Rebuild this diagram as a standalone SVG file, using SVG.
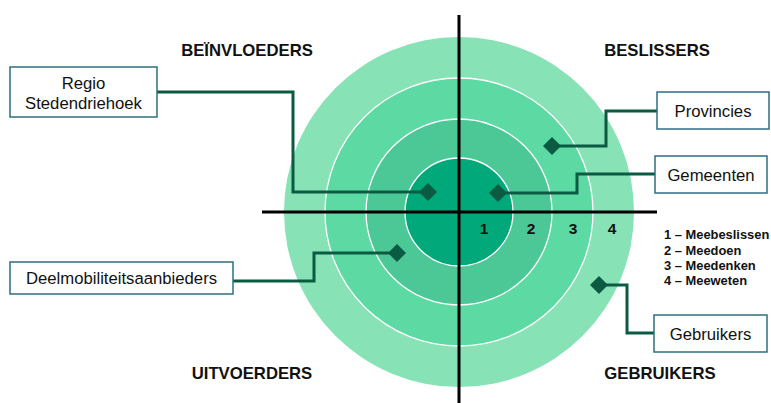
<svg xmlns="http://www.w3.org/2000/svg" width="771" height="403" viewBox="0 0 771 403">
<defs>
<style>
.ring{stroke:#ffffff;stroke-width:1.3}
.axis{stroke:#000;stroke-width:3;fill:none}
.conn{stroke:#0b5a42;stroke-width:3;fill:none}
.dia{fill:#0b5a42}
.box{fill:#fff;stroke:#2f6f80;stroke-width:1.5}
.lbl{font-family:"Liberation Sans",Arial,sans-serif;font-size:16.7px;fill:#111;text-anchor:middle}
.title{font-family:"Liberation Sans",Arial,sans-serif;font-size:16.7px;font-weight:bold;fill:#111;text-anchor:middle}
.num{font-family:"Liberation Sans",Arial,sans-serif;font-size:15.5px;font-weight:bold;fill:#111;text-anchor:middle}
.leg{font-family:"Liberation Sans",Arial,sans-serif;font-size:12.9px;font-weight:bold;fill:#111}
</style>
</defs>
<rect width="771" height="403" fill="#fff"/>
<g id="target">
<circle cx="459" cy="212" r="175" fill="#87e3b6"/>
<circle class="ring" cx="459" cy="212" r="134" fill="#5dd9a4"/>
<circle class="ring" cx="459" cy="212" r="93" fill="#4cc796"/>
<circle class="ring" cx="459" cy="212" r="54" fill="#00a87a"/>
</g>
<g id="axes">
<line class="axis" x1="459" y1="15" x2="459" y2="403"/>
<line class="axis" x1="262" y1="212" x2="657" y2="212"/>
</g>
<g id="numbers">
<text class="num" x="484" y="234">1</text>
<text class="num" x="531" y="234">2</text>
<text class="num" x="573" y="234">3</text>
<text class="num" x="612" y="234">4</text>
</g>
<g id="legend">
<text class="leg" x="664" y="239">1 – Meebeslissen</text>
<text class="leg" x="664" y="255">2 – Meedoen</text>
<text class="leg" x="664" y="270">3 – Meedenken</text>
<text class="leg" x="664" y="285">4 – Meeweten</text>
</g>
<g id="titles">
<text class="title" x="247" y="56">BEÏNVLOEDERS</text>
<text class="title" x="657" y="56">BESLISSERS</text>
<text class="title" x="252" y="379">UITVOERDERS</text>
<text class="title" x="660" y="379">GEBRUIKERS</text>
</g>
<g id="connectors">
<polyline class="conn" points="157,92 293,92 293,192 428,192"/>
<polyline class="conn" points="657,111 606,111 606,146 552,146"/>
<polyline class="conn" points="655,174 577,174 577,193 498,193"/>
<polyline class="conn" points="233,281 314,281 314,253 397,253"/>
<polyline class="conn" points="654,333 627,333 627,285 599,285"/>
<path class="dia" d="M428,183 l9,9 l-9,9 l-9,-9z"/>
<path class="dia" d="M552,137 l9,9 l-9,9 l-9,-9z"/>
<path class="dia" d="M498,184 l9,9 l-9,9 l-9,-9z"/>
<path class="dia" d="M397,244 l9,9 l-9,9 l-9,-9z"/>
<path class="dia" d="M599,276 l9,9 l-9,9 l-9,-9z"/>
</g>
<g id="node-regio">
<rect class="box" x="10" y="67" width="147" height="50"/>
<text class="lbl" x="83.5" y="89">Regio</text>
<text class="lbl" x="83.5" y="109">Stedendriehoek</text>
</g>
<g id="node-provincies">
<rect class="box" x="657" y="92" width="112" height="37"/>
<text class="lbl" x="713" y="117">Provincies</text>
</g>
<g id="node-gemeenten">
<rect class="box" x="655" y="156" width="112" height="37"/>
<text class="lbl" x="711" y="181">Gemeenten</text>
</g>
<g id="node-deelmobiliteit">
<rect class="box" x="10" y="262" width="223" height="32"/>
<text class="lbl" x="121.5" y="284">Deelmobiliteitsaanbieders</text>
</g>
<g id="node-gebruikers">
<rect class="box" x="654" y="315" width="113" height="37"/>
<text class="lbl" x="710.5" y="340">Gebruikers</text>
</g>
</svg>
